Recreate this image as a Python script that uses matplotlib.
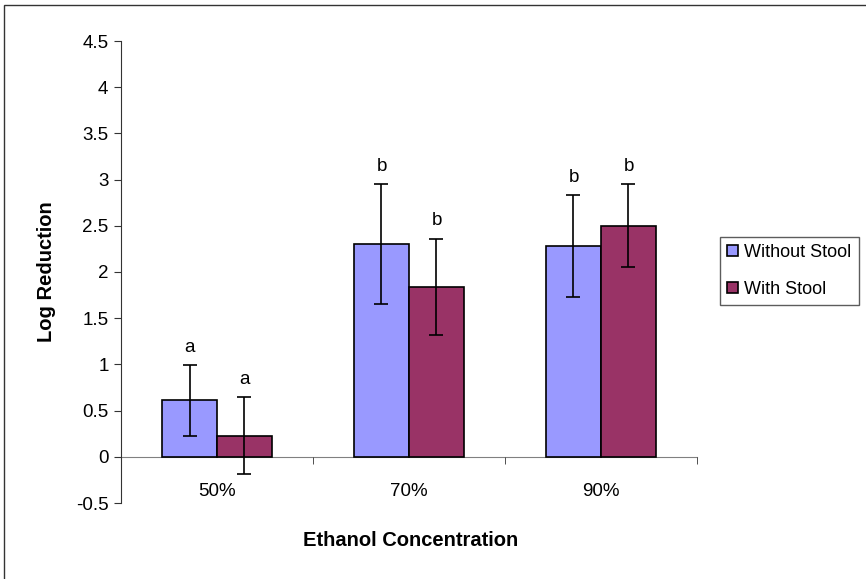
import numpy as np
import matplotlib.pyplot as plt
from matplotlib.patches import Rectangle

plt.rcParams["font.family"] = ["Liberation Sans", "DejaVu Sans"]

CATEGORIES = ["50%", "70%", "90%"]
SERIES = ["Without Stool", "With Stool"]
WITHOUT_STOOL = [0.61, 2.30, 2.28]
WITHOUT_STOOL_ERR = [0.38, 0.65, 0.55]
WITH_STOOL = [0.23, 1.84, 2.50]
WITH_STOOL_ERR = [0.42, 0.52, 0.45]
WITHOUT_LETTERS = ["a", "b", "b"]
WITH_LETTERS = ["a", "b", "b"]

BLUE = "#9999FF"
PURPLE = "#993366"


def main() -> None:
    fig = plt.figure(figsize=(8.66, 5.79), dpi=100)
    ax = fig.add_axes([121 / 866, 76 / 579, 576 / 866, 462 / 579])

    # outer frame around the chart area
    fig.patches.append(Rectangle((4 / 866, -0.1), 2.0, (574 / 579) + 0.1,
                                 transform=fig.transFigure, fill=False,
                                 edgecolor="#333333", linewidth=1.0))

    x = np.arange(len(CATEGORIES)) + 0.5
    w = 55 / 192

    ax.bar(x - w / 2, WITHOUT_STOOL, w, color=BLUE, edgecolor="black",
           linewidth=1.2, label=SERIES[0], zorder=2)
    ax.bar(x + w / 2, WITH_STOOL, w, color=PURPLE, edgecolor="black",
           linewidth=1.2, label=SERIES[1], zorder=2)

    ax.errorbar(x - w / 2, WITHOUT_STOOL, yerr=WITHOUT_STOOL_ERR, fmt="none",
                ecolor="black", elinewidth=1.2, capsize=4.7, capthick=1.2, zorder=3)
    ax.errorbar(x + w / 2, WITH_STOOL, yerr=WITH_STOOL_ERR, fmt="none",
                ecolor="black", elinewidth=1.2, capsize=4.7, capthick=1.2, zorder=3)

    for xi, v, e, s in zip(x - w / 2, WITHOUT_STOOL, WITHOUT_STOOL_ERR, WITHOUT_LETTERS):
        ax.text(xi, v + e + 0.1, s, ha="center", va="bottom", fontsize=13.5)
    for xi, v, e, s in zip(x + w / 2, WITH_STOOL, WITH_STOOL_ERR, WITH_LETTERS):
        ax.text(xi, v + e + 0.1, s, ha="center", va="bottom", fontsize=13.5)

    ax.set_xlim(0, 3)
    ax.set_ylim(-0.5, 4.5)
    ax.set_yticks(np.arange(-0.5, 4.51, 0.5))
    ax.set_yticklabels([f"{t:g}" for t in np.arange(-0.5, 4.51, 0.5)])

    ax.spines["top"].set_visible(False)
    ax.spines["right"].set_visible(False)
    ax.spines["left"].set_color("#333333")
    ax.spines["bottom"].set_position(("data", 0))
    ax.spines["bottom"].set_color("#808080")
    ax.spines["bottom"].set_zorder(1)

    ax.set_xticks(x)
    ax.set_xticklabels(CATEGORIES)
    ax.set_xticks([0, 1, 2, 3], minor=True)
    ax.tick_params(axis="x", which="major", length=0, pad=19, labelsize=13.5)
    ax.tick_params(axis="x", which="minor", length=5, color="#333333")
    ax.tick_params(axis="y", length=5, color="#333333", labelsize=13.5, pad=4)

    ax.set_ylabel("Log Reduction", fontsize=14.5, fontweight="bold", labelpad=14)
    fig.text(411 / 866, 1 - 541 / 579, "Ethanol Concentration", ha="center",
             va="center", fontsize=14.5, fontweight="bold")

    leg = ax.legend(loc="center left", bbox_to_anchor=(720 / 866, 1 - 271 / 579),
                    bbox_transform=fig.transFigure, fontsize=13, frameon=True,
                    fancybox=False, edgecolor="#333333", handlelength=0.6,
                    handleheight=0.6, handletextpad=0.35, borderpad=0.4,
                    labelspacing=1.1, borderaxespad=0)
    leg.get_frame().set_linewidth(1.0)

    fig.savefig("out.png", dpi=100)


if __name__ == "__main__":
    main()
